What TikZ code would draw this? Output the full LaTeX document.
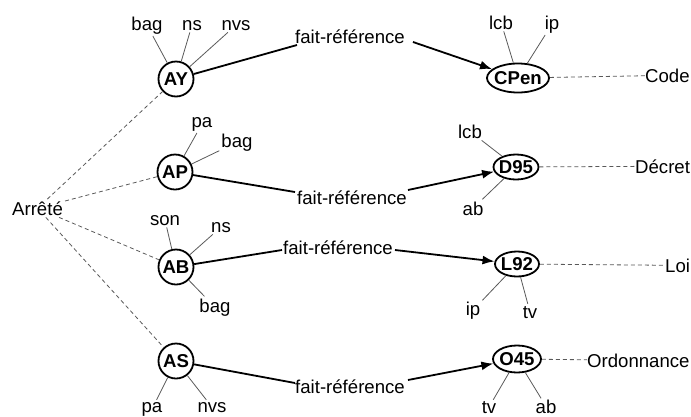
\documentclass[tikz,border=0pt]{standalone}
\usepackage{fontspec}
\setmainfont{Liberation Sans}
\usetikzlibrary{shapes.geometric,arrows.meta}
\newcommand\etxt[1]{\makebox[0pt]{\raisebox{-0.36em}[0pt][0pt]{\bfseries #1}}}
\begin{document}
\begin{tikzpicture}[x=1pt,y=-1pt,
  every node/.style={font=\fontsize{18.6}{22}\selectfont},
  ent/.style={draw, line width=1.8pt, inner sep=0pt, fill=white},
  circ/.style={ent, circle, minimum size=35pt},
  ell/.style={ent, ellipse},
  attr/.style={inner sep=2pt, anchor=base},
  typ/.style={inner sep=0pt, anchor=base west},
  rel/.style={inner sep=0pt, anchor=base west},
  thin/.style={draw=black!65, line width=0.8pt},
  dsh/.style={draw=black!65, line width=0.8pt, dash pattern=on 4pt off 3pt},
  thick/.style={draw=black, line width=1.8pt},
  arr/.style={thick, -{Latex[length=12pt,width=9pt]}}
]
\useasboundingbox (0,0) rectangle (691,416);

% entity nodes
\node[circ] (AY) at (176,79) {\etxt{AY}};
\node[circ] (AP) at (175,172) {\etxt{AP}};
\node[circ] (AB) at (176,267) {\etxt{AB}};
\node[circ] (AS) at (176,361) {\etxt{AS}};
\node[ell, minimum width=62pt, minimum height=29pt] (CPen) at (518,78) {\etxt{CPen}};
\node[ell, minimum width=45pt, minimum height=25pt] (D95) at (516,167) {\etxt{D95}};
\node[ell, minimum width=44pt, minimum height=25pt] (L92) at (517,264) {\etxt{L92}};
\node[ell, minimum width=48pt, minimum height=27pt] (O45) at (517,359) {\etxt{O45}};

% Arrêté
\node[inner sep=2pt, anchor=base west] (arrete) at (10,215) {Arrêté};

% type labels
\node[typ] (code) at (645,82) {Code};
\node[typ] (decret) at (635,173) {Décret};
\node[typ] (loi) at (665,272) {Loi};
\node[typ] (ordo) at (587,367) {Ordonnance};

% attribute labels
\node[attr] (AYbag) at (147,30) {bag};
\node[attr] (AYns) at (192,30) {ns};
\node[attr] (AYnvs) at (236,30) {nvs};
\node[attr] (APpa) at (202,127) {pa};
\node[attr] (APbag) at (237,147) {bag};
\node[attr] (ABson) at (165,225) {son};
\node[attr] (ABns) at (221,232) {ns};
\node[attr] (ABbag) at (215,312) {bag};
\node[attr] (ASpa) at (152,412) {pa};
\node[attr] (ASnvs) at (212,412) {nvs};
\node[attr] (Clcb) at (501,29) {lcb};
\node[attr] (Cip) at (552,29) {ip};
\node[attr] (Dlcb) at (470,138) {lcb};
\node[attr] (Dab) at (473,215) {ab};
\node[attr] (Lip) at (473,315) {ip};
\node[attr] (Ltv) at (530,318) {tv};
\node[attr, inner sep=1pt] (Otv) at (489,413) {tv};
\node[attr, inner sep=1pt] (Oab) at (546,413) {ab};

% relation labels
\node[rel] (f1) at (295,43) {fait-référence};
\node[rel] (f2) at (297,204) {fait-référence};
\node[rel] (f3) at (283,254) {fait-référence};
\node[rel] (f4) at (295,393) {fait-référence};

% attribute lines
\draw[thin] (AYbag) -- (AY);
\draw[thin] (AYns) -- (AY);
\draw[thin] (AYnvs) -- (AY);
\draw[thin] (APpa) -- (AP);
\draw[thin] (APbag) -- (AP);
\draw[thin] (ABson) -- (AB);
\draw[thin] (ABns) -- (AB);
\draw[thin] (ABbag) -- (AB);
\draw[thin] (ASpa) -- (AS);
\draw[thin] (ASnvs) -- (AS);
\draw[thin] (Clcb) -- (CPen);
\draw[thin] (Cip) -- (CPen);
\draw[thin] (Dlcb) -- (D95);
\draw[thin] (Dab) -- (D95);
\draw[thin] (Lip) -- (L92);
\draw[thin] (Ltv) -- (L92);
\draw[thin] (Otv) -- (O45);
\draw[thin] (Oab) -- (O45);

% dashed lines
\draw[dsh] (arrete) -- (AY);
\draw[dsh] (arrete) -- (AP);
\draw[dsh] (arrete) -- (AB);
\draw[dsh] (arrete) -- (AS);
\draw[dsh] (CPen) -- (code);
\draw[dsh] (D95) -- (decret);
\draw[dsh] (L92) -- (loi);
\draw[dsh] (O45) -- (ordo);

% relations
\draw[thick] (AY) -- ([xshift=2pt,yshift=-2pt]f1.base west);
\draw[arr] ([xshift=8pt,yshift=1pt]f1.base east) -- (CPen);
\draw[thick] (AP) -- ([xshift=-2pt,yshift=12pt]f2.base west);
\draw[arr] ([xshift=1pt,yshift=14pt]f2.base east) -- (D95);
\draw[thick] (AB) -- ([xshift=-1pt,yshift=4pt]f3.base west);
\draw[arr] ([xshift=2pt,yshift=4pt]f3.base east) -- (L92);
\draw[thick] (AS) -- ([xshift=0pt,yshift=10pt]f4.base west);
\draw[arr] ([xshift=3pt,yshift=13pt]f4.base east) -- (O45);
\end{tikzpicture}
\end{document}
